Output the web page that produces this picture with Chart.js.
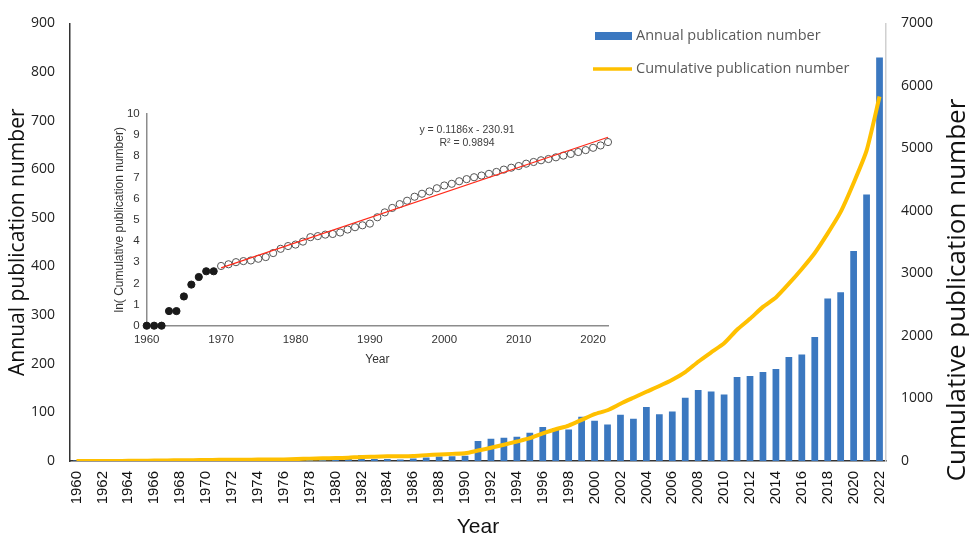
<!DOCTYPE html>
<html>
<head>
<meta charset="utf-8">
<script src="https://cdn.jsdelivr.net/npm/chart.js@4.4.0/dist/chart.umd.min.js"></script>
<style>
  html, body { margin: 0; padding: 0; background: #fff; }
  #wrap { position: relative; width: 969px; height: 538px; }
  #main { position: absolute; left: 0; top: 0; width: 969px; height: 538px; }
  #inset { position: absolute; left: 100px; top: 100px; width: 520px; height: 270px; }
</style>
</head>
<body>
<div id="wrap">
  <div id="main"><canvas id="mainChart"></canvas></div>
  <div id="inset"><canvas id="insetChart"></canvas></div>
</div>
<script>
// years on the x axis
const years = [1960, 1961, 1962, 1963, 1964, 1965, 1966, 1967, 1968, 1969,
  1970, 1971, 1972, 1973, 1974, 1975, 1976, 1977, 1978, 1979,
  1980, 1981, 1982, 1983, 1984, 1985, 1986, 1987, 1988, 1989,
  1990, 1991, 1992, 1993, 1994, 1995, 1996, 1997, 1998, 1999,
  2000, 2001, 2002, 2003, 2004, 2005, 2006, 2007, 2008, 2009,
  2010, 2011, 2012, 2013, 2014, 2015, 2016, 2017, 2018, 2019,
  2020, 2021, 2022];

// bars (left axis)
const annual = [1, 0, 0, 1, 0, 2, 3, 3, 3, 0,
  4, 1, 2, 1, 1, 2, 1, 6, 7, 5,
  3, 7, 12, 4, 4, 3, 5, 7, 9, 10,
  11, 41, 46, 48, 50, 58, 70, 68, 65, 91,
  83, 75, 95, 87, 111, 96, 102, 130, 146, 143,
  137, 173, 175, 183, 189, 214, 219, 255, 334, 347,
  432, 548, 830];

// yellow line (right axis)
const cumulative = [1, 1, 1, 2, 2, 4, 7, 10, 13, 13,
  17, 18, 20, 21, 22, 24, 25, 31, 38, 43,
  46, 53, 65, 69, 74, 76, 81, 94, 105, 114,
  124, 167, 211, 260, 311, 365, 442, 508, 567, 658,
  750, 812, 916, 1012, 1107, 1199, 1300, 1422, 1588, 1737,
  1882, 2100, 2275, 2465, 2617, 2836, 3072, 3328, 3641, 3984,
  4447, 4964, 5830];

// inset: ln(cumulative)
const lnCumulative = [0, 0, 0, 0.69, 0.69, 1.38, 1.94, 2.30, 2.57, 2.57,
  2.82, 2.90, 3.00, 3.05, 3.08, 3.16, 3.24, 3.43, 3.63, 3.76,
  3.83, 3.97, 4.18, 4.23, 4.30, 4.33, 4.40, 4.54, 4.65, 4.74,
  4.82, 5.12, 5.35, 5.56, 5.74, 5.90, 6.09, 6.23, 6.34, 6.49,
  6.62, 6.70, 6.82, 6.92, 7.01, 7.09, 7.17, 7.26, 7.37, 7.46,
  7.54, 7.65, 7.73, 7.81, 7.87, 7.95, 8.03, 8.11, 8.20, 8.29,
  8.40, 8.51, 8.67];

// fitted line endpoints shown in the inset
const trendYears = [1970, 2022];
const trendValues = [2.73, 8.90];

const mainTicks = [0, 100, 200, 300, 400, 500, 600, 700, 800, 900];
const rightTicks = [0, 1000, 2000, 3000, 4000, 5000, 6000, 7000];
const insetXTicks = [1960, 1970, 1980, 1990, 2000, 2010, 2020];
const insetYTicks = [0, 1, 2, 3, 4, 5, 6, 7, 8, 9, 10];

// legend + right axis title drawn by hand
const extrasPlugin = {
  id: 'extras',
  afterDraw(chart) {
    const ctx = chart.ctx;
    ctx.save();
    ctx.font = '14.5px "Open Sans"';
    ctx.textBaseline = 'middle';
    ctx.textAlign = 'left';
    ctx.fillStyle = '#3B78C0';
    ctx.fillRect(595, 32, 37, 8);
    ctx.fillStyle = '#595959';
    ctx.fillText(chart.data.datasets[1].label, 636, 36);
    ctx.strokeStyle = '#FFC000';
    ctx.lineWidth = 3.5;
    ctx.beginPath();
    ctx.moveTo(593, 69);
    ctx.lineTo(632, 69);
    ctx.stroke();
    ctx.fillText(chart.data.datasets[0].label, 636, 69);

    ctx.translate(958, 290);
    ctx.rotate(-Math.PI / 2);
    ctx.textAlign = 'center';
    ctx.fillStyle = '#111';
    ctx.font = '26px "Open Sans"';
    ctx.fillText('Cumulative publication number', 0, 0);
    ctx.restore();
  }
};

const plain = v => String(v);

new Chart(document.getElementById('mainChart'), {
  data: {
    labels: years,
    datasets: [
      {
        type: 'line',
        label: 'Cumulative publication number',
        data: cumulative,
        yAxisID: 'y1',
        borderColor: '#FFC000',
        borderWidth: 4,
        pointRadius: 0,
        tension: 0.2,
        order: 0
      },
      {
        type: 'bar',
        label: 'Annual publication number',
        data: annual,
        yAxisID: 'y',
        backgroundColor: '#3B78C0',
        barPercentage: 0.52,
        categoryPercentage: 1,
        order: 1
      }
    ]
  },
  options: {
    responsive: true,
    maintainAspectRatio: false,
    animation: false,
    layout: { padding: { top: 9 } },
    plugins: { legend: { display: false }, tooltip: { enabled: false } },
    scales: {
      x: {
        grid: { display: false, drawTicks: false },
        border: { color: '#333', width: 1.5 },
        ticks: {
          autoSkip: false, maxRotation: 90, minRotation: 90, padding: 10,
          font: { family: 'Liberation Sans', size: 15 }, color: '#111',
          callback: function(v, i) { return i % 2 === 0 ? String(this.getLabelForValue(v)) : ''; }
        },
        title: {
          display: true, text: 'Year', color: '#111',
          font: { family: 'Liberation Sans', size: 21, lineHeight: 1 },
          padding: { top: 0, bottom: 0 }
        },
        afterFit: s => { s.height = 77; }
      },
      y: {
        position: 'left', min: 0, max: 900,
        afterBuildTicks: s => { s.ticks = mainTicks.map(v => ({ value: v })); },
        ticks: { padding: 15, font: { family: 'Open Sans', size: 14 }, color: '#222', callback: plain },
        grid: { display: false, drawTicks: false },
        border: { color: '#333', width: 1.5 },
        title: {
          display: true, text: 'Annual publication number', color: '#111',
          font: { family: 'Open Sans', size: 21, lineHeight: 1 },
          padding: { top: 8, bottom: 0 }
        },
        afterFit: s => { s.width = 70; }
      },
      y1: {
        position: 'right', min: 0, max: 7000,
        afterBuildTicks: s => { s.ticks = rightTicks.map(v => ({ value: v })); },
        ticks: { padding: 15, font: { family: 'Open Sans', size: 14 }, color: '#222', callback: plain },
        grid: { display: false, drawTicks: false },
        border: { color: '#d0d0d0', width: 1.5 },
        afterFit: s => { s.width = 83; }
      }
    }
  },
  plugins: [extrasPlugin]
});

// inset
const earlyPts = [], latePts = [];
years.forEach((yr, i) => {
  (yr < 1970 ? earlyPts : latePts).push({ x: yr, y: lnCumulative[i] });
});

const equationPlugin = {
  id: 'equation',
  afterDraw(chart) {
    const ctx = chart.ctx;
    ctx.save();
    ctx.font = '10.5px "Liberation Sans"';
    ctx.fillStyle = '#404040';
    ctx.textAlign = 'center';
    ctx.textBaseline = 'middle';
    ctx.fillText('y = 0.1186x - 230.91', 367, 30);
    ctx.fillText('R² = 0.9894', 367, 43);
    ctx.restore();
  }
};

new Chart(document.getElementById('insetChart'), {
  type: 'scatter',
  data: {
    datasets: [
      {
        type: 'line', label: 'trend',
        data: trendYears.map((x, i) => ({ x: x, y: trendValues[i] })),
        borderColor: '#FF2A1A', borderWidth: 1.2, pointRadius: 0, order: 0
      },
      {
        label: 'early', data: earlyPts, pointRadius: 3.6,
        backgroundColor: '#1a1a1a', borderColor: '#1a1a1a', order: 1
      },
      {
        label: 'late', data: latePts, pointRadius: 3.6,
        backgroundColor: 'rgba(255,255,255,0)', borderColor: '#555', borderWidth: 1, order: 2
      }
    ]
  },
  options: {
    responsive: true,
    maintainAspectRatio: false,
    animation: false,
    clip: false,
    layout: { padding: { left: 9, top: 12.7, right: 12 } },
    plugins: { legend: { display: false }, tooltip: { enabled: false } },
    scales: {
      x: {
        type: 'linear', min: 1960, max: 2022,
        afterBuildTicks: s => { s.ticks = insetXTicks.map(v => ({ value: v })); },
        ticks: { padding: 7, font: { family: 'Liberation Sans', size: 11.5 }, color: '#333', callback: plain },
        grid: { display: false, drawTicks: false },
        border: { color: '#8c8c8c', width: 1.5 },
        title: {
          display: true, text: 'Year', color: '#333',
          font: { family: 'Liberation Sans', size: 12, lineHeight: 1 },
          padding: { top: 0, bottom: 4 }
        },
        afterFit: s => { s.height = 44.3; }
      },
      y: {
        min: 0, max: 10,
        afterBuildTicks: s => { s.ticks = insetYTicks.map(v => ({ value: v })); },
        ticks: { padding: 7, font: { family: 'Liberation Sans', size: 11.5 }, color: '#333', callback: plain },
        grid: { display: false, drawTicks: false },
        border: { color: '#8c8c8c', width: 1.5 },
        title: {
          display: true, text: 'ln( Cumulative publication number)', color: '#333',
          font: { family: 'Liberation Sans', size: 12, lineHeight: 1 },
          padding: { top: 5, bottom: 0 }
        },
        afterFit: s => { s.width = 37.7; }
      }
    }
  },
  plugins: [equationPlugin]
});
</script>
</body>
</html>
